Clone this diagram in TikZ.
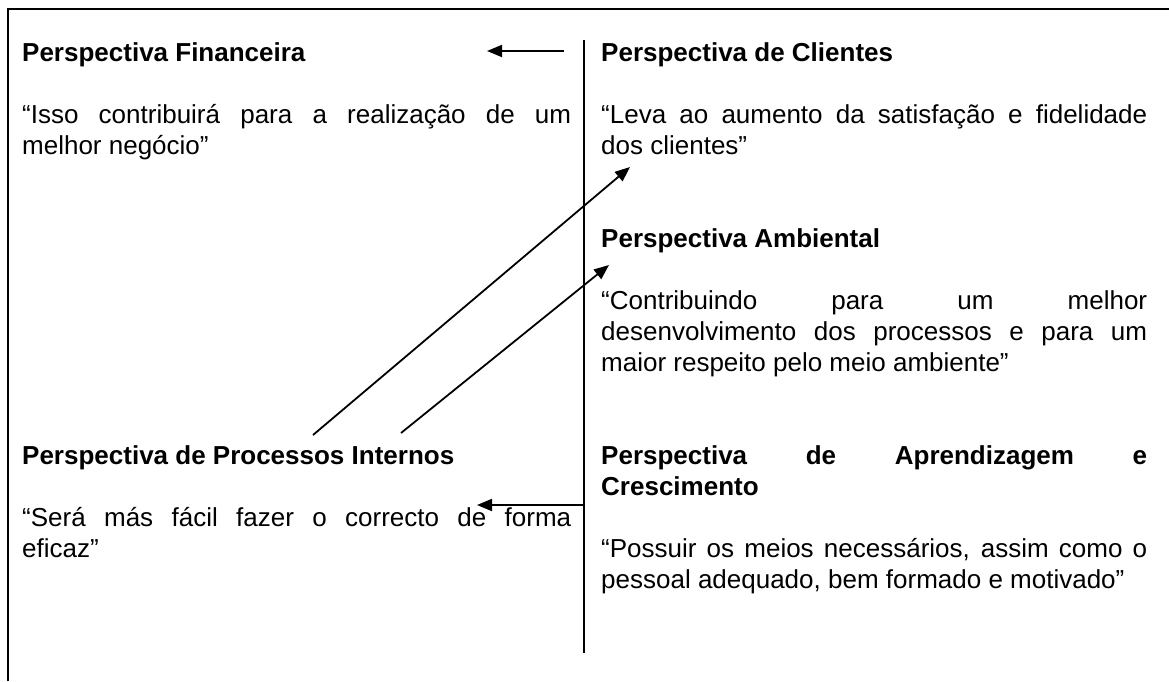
\documentclass[tikz,border=0pt]{standalone}
\usepackage{fontspec}
\setmainfont{Liberation Sans}
\usetikzlibrary{arrows.meta}
\begin{document}
\begin{tikzpicture}[x=1pt,y=-1pt,
  txt/.style={anchor=base west, inner sep=0pt, text width=549pt, align=justify, font=\fontsize{26}{31}\selectfont},
  rtxt/.style={txt, text width=546pt},
  hd/.style={anchor=base west, inner sep=0pt, font=\fontsize{26}{31}\selectfont\bfseries},
  arr/.style={line width=1.8pt, -{Triangle[length=15pt,width=12pt]}},
  frameline/.style={line width=2.2pt},
  divider/.style={line width=1.8pt}]
\useasboundingbox (0,0) rectangle (1169,681);
% frame
\draw[frameline] (8,681) -- (8,9) -- (1169,9);
% divider
\coordinate (dtop) at (584,40);
\coordinate (dbot) at (584,653);
\draw[divider] (dtop) -- (dbot);
% left column
\node[hd] (fin) at (22,61) {Perspectiva Financeira};
\node[txt] (finq) at (22,123) {“Isso contribuirá para a realização de um\linebreak melhor negócio”};
\node[hd] (proc) at (22,464) {Perspectiva de Processos Internos};
\node[txt] (procq) at (22,526) {“Será más fácil fazer o correcto de forma\linebreak eficaz”};
% right column
\node[hd] (cli) at (601,61) {Perspectiva de Clientes};
\node[rtxt] (cliq) at (601,123) {“Leva ao aumento da satisfação e fidelidade\linebreak dos clientes”};
\node[hd] (amb) at (601,247) {Perspectiva Ambiental};
\node[rtxt] (ambq) at (601,309) {“Contribuindo para um melhor\linebreak desenvolvimento dos processos e para um\linebreak maior respeito pelo meio ambiente”};
\node[rtxt, font=\fontsize{26}{31}\selectfont\bfseries] (apr) at (601,464) {Perspectiva de Aprendizagem e\linebreak Crescimento};
\node[rtxt] (aprq) at (601,557) {“Possuir os meios necessários, assim como o\linebreak pessoal adequado, bem formado e motivado”};
% arrows
\coordinate (a0s) at (564,51);
\coordinate (a0e) at (487,51);
\draw[arr] (a0s) -- (a0e);
\coordinate (a1s) at (313,435);
\coordinate (a1e) at (630,167);
\draw[arr] (a1s) -- (a1e);
\coordinate (a2s) at (401,433);
\coordinate (a2e) at (609,265);
\draw[arr] (a2s) -- (a2e);
\coordinate (a3s) at (584,505);
\coordinate (a3e) at (477,505);
\draw[arr] (a3s) -- (a3e);
\end{tikzpicture}
\end{document}
